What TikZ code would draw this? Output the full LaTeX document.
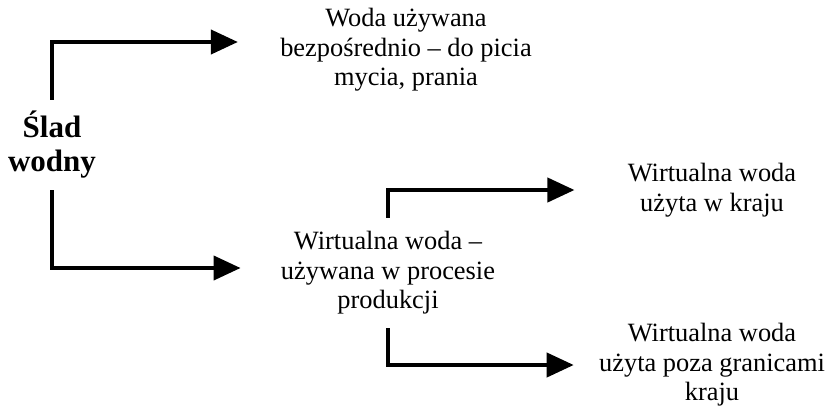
\documentclass[tikz,border=0pt]{standalone}
\usepackage{fontspec}
\setmainfont{Liberation Serif}
\usetikzlibrary{arrows.meta}

\begin{document}
\begin{tikzpicture}[x=0.5pt, y=-0.5pt,
    txt/.style={align=center, inner ysep=0pt, font=\fontsize{13.2}{14.8}\selectfont},
    arr/.style={line width=2pt, -{Triangle[length=13.5pt, width=12pt]}}]
    \useasboundingbox (0,0) rectangle (830,408);

    \node[align=center, inner sep=0pt, minimum height=45pt,
          font=\fontsize{15.5}{17}\selectfont\bfseries] (slad) at (52,145) {Ślad\\wodny};
    \node[txt, inner xsep=21pt] (bezp) at (406,50)
        {Woda używana\\bezpośrednio – do picia\\mycia, prania};
    \node[txt, inner xsep=20pt, minimum height=55pt] (prod) at (388,273)
        {Wirtualna woda –\\używana w procesie\\produkcji};
    \node[txt, inner xsep=26.5pt] (kraj) at (712,190)
        {Wirtualna woda\\użyta w kraju};
    \node[txt, inner xsep=12.5pt] (poza) at (712,365)
        {Wirtualna woda\\użyta poza granicami\\kraju};

    \draw[arr] (slad.north) |- ([yshift=4pt]bezp.west);
    \draw[arr] (slad.south) |- ([yshift=2.5pt]prod.west);
    \draw[arr] (prod.north) |- (kraj.west);
    \draw[arr] (prod.south) |- (poza.west);
\end{tikzpicture}
\end{document}
